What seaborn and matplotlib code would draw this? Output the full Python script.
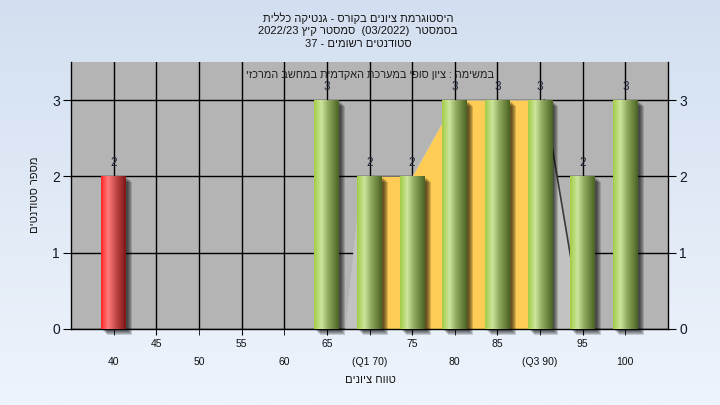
import re
import numpy as np
import pandas as pd
import matplotlib
matplotlib.use("Agg")
import matplotlib.pyplot as plt
import matplotlib.transforms as mtransforms
from matplotlib.colors import LinearSegmentedColormap
from matplotlib.patches import Rectangle
import seaborn as sns

plt.rcParams['font.family'] = ['Liberation Sans', 'DejaVu Sans']

# ---------------- data ----------------
title_lines = [
    "היסטוגרמת ציונים בקורס - גנטיקה כללית",
    "בסמסטר  (03/2022)  סמסטר קיץ 2022/23",
    "סטודנטים רשומים - 37",
]
subtitle = "במשימה : ציון סופי במערכת האקדמית במחשב המרכזי"
x_label = "טווח ציונים"
y_label = "מספר סטודנטים"

grades = [40, 65, 70, 75, 80, 85, 90, 95, 100]
counts = [2, 3, 2, 2, 3, 3, 3, 2, 3]
pass_grade = 55
q1, q3 = 70, 90

odd_ticks = [45, 55, 65, 75, 85, 95]
odd_labels = ["45", "55", "65", "75", "85", "95"]
even_ticks = [40, 50, 60, 70, 80, 90, 100]
even_labels = ["40", "50", "60", "(Q1 70)", "80", "(Q3 90)", "100"]
y_ticks = [0, 1, 2, 3]

spread_x = [67.2, 69.0, 75, 80, 90.5, 95]
spread_y = [0, 2, 2, 3, 3, 0]


def vis(s):
    """Convert logical RTL text into visual order for LTR rendering."""
    toks = re.findall(r'\s+|[\u0590-\u05FF]+|[^\s\u0590-\u05FF]+', s)
    out = []
    for t in reversed(toks):
        if re.match(r'[\u0590-\u05FF]', t):
            out.append(t[::-1])
        else:
            out.append(t)
    return ''.join(out)


W, H = 720, 405
fig = plt.figure(figsize=(7.2, 4.05), dpi=100)

# background gradient
bgax = fig.add_axes([0, 0, 1, 1], zorder=-10)
bgax.imshow(np.linspace(0, 1, 256).reshape(-1, 1),
            cmap=LinearSegmentedColormap.from_list('bg', ['#D3DFF0', '#EEF4FC']),
            aspect='auto', extent=[0, 1, 0, 1])
bgax.axis('off')

L, R, T, B = 71, 668, 62, 329
ax = fig.add_axes([L / W, (H - B) / H, (R - L) / W, (B - T) / H])
ax.set_facecolor('#B4B4B4')

df = pd.DataFrame({'grade': grades, 'count': counts})
sns.barplot(data=df, x='grade', y='count', native_scale=True, width=0.58,
            color='#9CC83C', saturation=1, ax=ax, zorder=3, edgecolor='none',
            linewidth=0)

green_cmap = LinearSegmentedColormap.from_list(
    'g', [(0, '#A2CC44'), (0.3, '#CCE59C'), (0.55, '#94AE62'), (1, '#4A6222')])
red_cmap = LinearSegmentedColormap.from_list(
    'r', [(0, '#FF2424'), (0.28, '#FF7C7C'), (0.6, '#C24A4A'), (1, '#7E1414')])

grad = np.linspace(0, 1, 128).reshape(1, -1)
for p in ax.patches:
    x0, w, h = p.get_x(), p.get_width(), p.get_height()
    if h <= 0:
        continue
    for d in [2, 3, 4, 5, 6]:
        sh = Rectangle((x0, 0), w, h, facecolor='black', alpha=0.16, lw=0,
                       zorder=2.5, clip_on=False,
                       transform=ax.transData + mtransforms.ScaledTranslation(
                           d / 100, -d / 100, fig.dpi_scale_trans))
        ax.add_patch(sh)
    cmap = red_cmap if (x0 + w / 2) < pass_grade else green_cmap
    ax.imshow(grad, cmap=cmap, extent=[x0, x0 + w, 0, h], aspect='auto',
              zorder=3.1, interpolation='bilinear')

# interquartile area + spread region
g = np.array(grades)
c = np.array(counts)
mask = (g >= q1) & (g <= q3)
ax.fill(spread_x, spread_y, color='#C2C2C2', lw=0, zorder=1)
ax.plot(spread_x[-2:], spread_y[-2:], color='#3A3A3A', lw=1.2, zorder=1.2)
ax.fill_between(g[mask], c[mask], color='#FFCC55', lw=0, zorder=1.5)

for cont in ax.containers:
    ax.bar_label(cont, fmt='%d', padding=5, fontsize=8.5, color='#1C2438', zorder=5)

ax.set_xlim(35, 105)
ax.set_ylim(0, 3.5)
ax.set_aspect('auto')

ax.set_xticks(odd_ticks)
ax.set_xticklabels(odd_labels)
ax.set_xticks(even_ticks, minor=True)
ax.set_xticklabels(even_labels, minor=True)
ax.set_yticks(y_ticks)
ax.set_yticklabels([str(v) for v in y_ticks])

ax.set_axisbelow(True)
ax.grid(True, which='both', axis='both', color='black', lw=1)
ax.tick_params(axis='x', which='both', direction='out', length=4, color='black',
               labelsize=7.5, labelcolor='#111111')
ax.tick_params(axis='x', which='major', pad=3.5)
ax.tick_params(axis='x', which='minor', pad=16)
ax.tick_params(axis='y', direction='out', length=6, color='black', labelsize=10,
               labelcolor='#10182A', left=True, right=True, labelleft=True,
               labelright=True, pad=2)
ax.set_xlabel('')
ax.set_ylabel('')
ax.spines['top'].set_visible(False)
for s in ['left', 'right', 'bottom']:
    ax.spines[s].set_color('black')
    ax.spines[s].set_linewidth(1)

ax.text((370 - L) / (R - L), (B - 75) / (B - T), vis(subtitle), transform=ax.transAxes,
        ha='center', va='center', fontsize=7.8, color='#202020', zorder=6)

for i, line in enumerate(title_lines):
    fig.text(358 / W, 1 - (18 + 13 * i) / H, vis(line), ha='center', va='center',
             fontsize=8, color='#141414')

fig.text(370 / W, 1 - 380 / H, vis(x_label), ha='center', va='center', fontsize=8,
         color='#141414')
fig.text(35 / W, 1 - 195 / H, vis(y_label), ha='center', va='center', fontsize=8,
         rotation=90, color='#141414')

fig.savefig('out.png', dpi=100)
